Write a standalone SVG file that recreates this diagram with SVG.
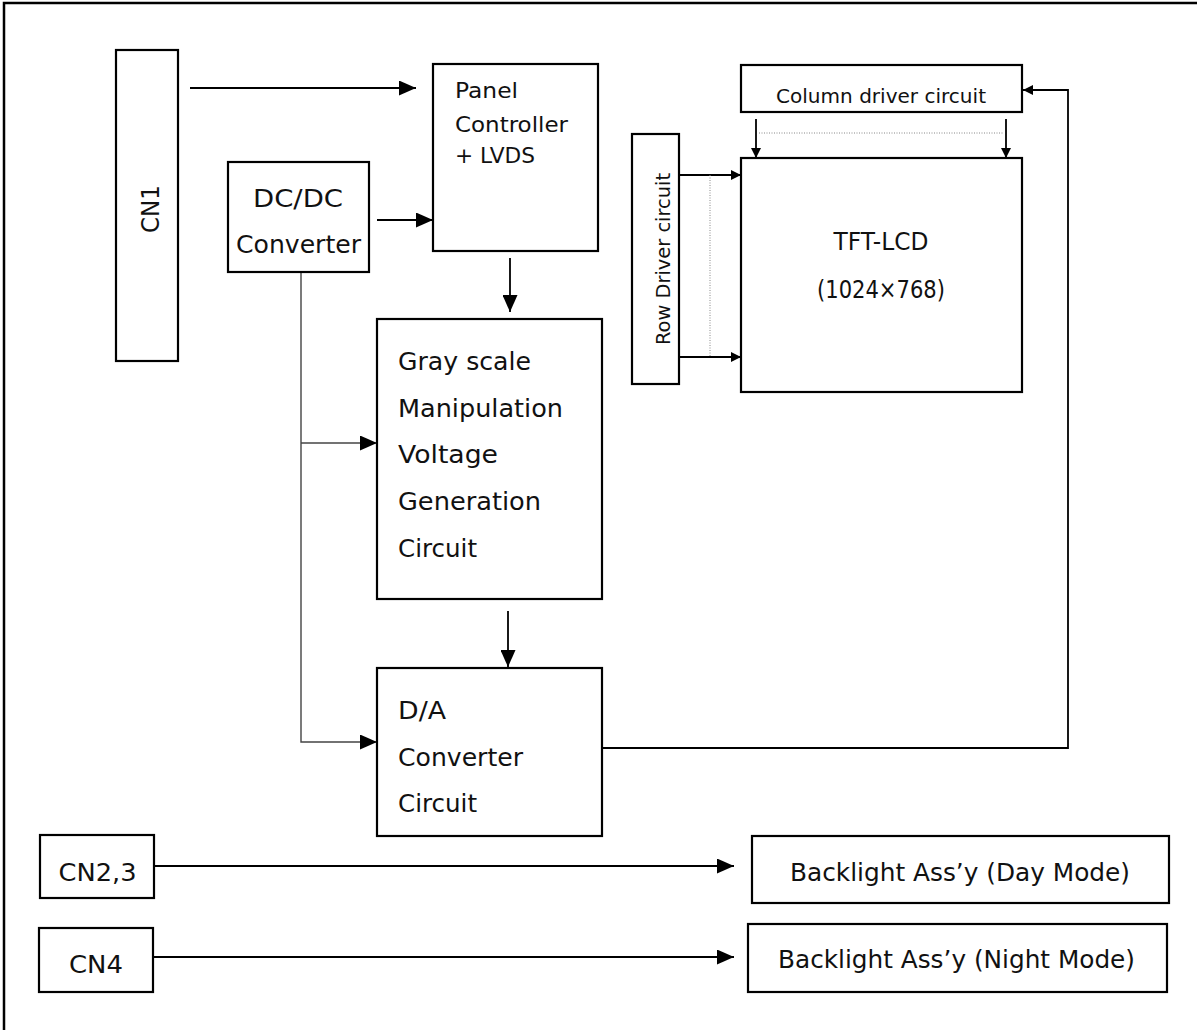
<svg xmlns="http://www.w3.org/2000/svg" width="1197" height="1030" viewBox="0 0 1197 1030">
<style>
.box{fill:#fff;stroke:#000;stroke-width:2.2}
.frame{fill:none;stroke:#000;stroke-width:2.5}
.ln{fill:none;stroke:#000;stroke-width:1.8}
.thin{fill:none;stroke:#444;stroke-width:1.4}
.dot{fill:none;stroke:#888;stroke-width:1;stroke-dasharray:1 1.5}
text{font-family:"DejaVu Sans","Liberation Sans",sans-serif;fill:#111}
.t23{font-size:22px}
.t25{font-size:24px}
.t20{font-size:19px}
.mid{text-anchor:middle}
</style>
<defs>
<marker id="big" markerUnits="userSpaceOnUse" markerWidth="17" markerHeight="15" refX="17" refY="7.5" orient="auto">
<path d="M0,0 L17,7.5 L0,15 z" fill="#000"/>
</marker>
<marker id="small" markerUnits="userSpaceOnUse" markerWidth="10" markerHeight="10" refX="10" refY="5" orient="auto">
<path d="M0,0 L10,5 L0,10 z" fill="#000"/>
</marker>
</defs>
<rect class="frame" x="4" y="3" width="1210" height="1040"/>

<g id="connectors">
<path class="ln" d="M190,88 H416" marker-end="url(#big)"/>
<path class="ln" d="M377,220 H433" marker-end="url(#big)"/>
<path class="ln" d="M510,258 V312" marker-end="url(#big)"/>
<path class="ln" d="M508,611 V667" marker-end="url(#big)"/>
<path class="thin" d="M301,272 V742 H377" marker-end="url(#big)"/>
<path class="thin" d="M301,443 H377" marker-end="url(#big)"/>
<path class="ln" d="M602,748 H1068 V90 H1023" marker-end="url(#small)"/>
<path class="ln" d="M756,119 V158" marker-end="url(#small)"/>
<path class="ln" d="M1006,119 V158" marker-end="url(#small)"/>
<path class="dot" d="M759,133 H1004"/>
<path class="ln" d="M679,175 H741" marker-end="url(#small)"/>
<path class="ln" d="M679,357 H741" marker-end="url(#small)"/>
<path class="dot" d="M710,175 V357"/>
<path class="ln" d="M154,866 H734" marker-end="url(#big)"/>
<path class="ln" d="M153,957 H734" marker-end="url(#big)"/>
</g>

<g id="cn1">
<rect class="box" x="116" y="50" width="62" height="311"/>
<text class="t25 mid" transform="translate(159,209) rotate(-90)" textLength="48" lengthAdjust="spacingAndGlyphs">CN1</text>
</g>

<g id="panel-controller">
<rect class="box" x="433" y="64" width="165" height="187"/>
<text class="t23" x="455" y="98" textLength="63" lengthAdjust="spacingAndGlyphs">Panel</text>
<text class="t23" x="455" y="132" textLength="113" lengthAdjust="spacingAndGlyphs">Controller</text>
<text class="t23" x="455" y="163" textLength="80" lengthAdjust="spacingAndGlyphs">+ LVDS</text>
</g>

<g id="dcdc">
<rect class="box" x="228" y="162" width="141" height="110"/>
<text class="t25 mid" x="298" y="207" textLength="90" lengthAdjust="spacingAndGlyphs">DC/DC</text>
<text class="t25 mid" x="298.5" y="253" textLength="125" lengthAdjust="spacingAndGlyphs">Converter</text>
</g>

<g id="grayscale">
<rect class="box" x="377" y="319" width="225" height="280"/>
<text class="t25" x="398" y="370" textLength="133" lengthAdjust="spacingAndGlyphs">Gray scale</text>
<text class="t25" x="398" y="417" textLength="165" lengthAdjust="spacingAndGlyphs">Manipulation</text>
<text class="t25" x="398" y="463" textLength="100" lengthAdjust="spacingAndGlyphs">Voltage</text>
<text class="t25" x="398" y="510" textLength="143" lengthAdjust="spacingAndGlyphs">Generation</text>
<text class="t25" x="398" y="557" textLength="79" lengthAdjust="spacingAndGlyphs">Circuit</text>
</g>

<g id="da-converter">
<rect class="box" x="377" y="668" width="225" height="168"/>
<text class="t25" x="398" y="719" textLength="48" lengthAdjust="spacingAndGlyphs">D/A</text>
<text class="t25" x="398" y="766" textLength="125" lengthAdjust="spacingAndGlyphs">Converter</text>
<text class="t25" x="398" y="812" textLength="79" lengthAdjust="spacingAndGlyphs">Circuit</text>
</g>

<g id="column-driver">
<rect class="box" x="741" y="65" width="281" height="47"/>
<text class="t20 mid" x="881" y="103" textLength="210" lengthAdjust="spacingAndGlyphs">Column driver circuit</text>
</g>

<g id="row-driver">
<rect class="box" x="632" y="134" width="47" height="250"/>
<text class="t20 mid" transform="translate(670,259) rotate(-90)" textLength="172" lengthAdjust="spacingAndGlyphs">Row Driver circuit</text>
</g>

<g id="tft-lcd">
<rect class="box" x="741" y="158" width="281" height="234"/>
<text class="t25 mid" x="881" y="250" textLength="95" lengthAdjust="spacingAndGlyphs">TFT-LCD</text>
<text class="t25 mid" x="881" y="298" textLength="128" lengthAdjust="spacingAndGlyphs">(1024×768)</text>
</g>

<g id="cn23">
<rect class="box" x="40" y="835" width="114" height="63"/>
<text class="t25 mid" x="97.5" y="881" textLength="78" lengthAdjust="spacingAndGlyphs">CN2,3</text>
</g>

<g id="backlight-day">
<rect class="box" x="752" y="836" width="417" height="67"/>
<text class="t25 mid" x="960" y="881" textLength="340" lengthAdjust="spacingAndGlyphs">Backlight Ass’y (Day Mode)</text>
</g>

<g id="cn4">
<rect class="box" x="39" y="928" width="114" height="64"/>
<text class="t25 mid" x="96" y="973" textLength="54" lengthAdjust="spacingAndGlyphs">CN4</text>
</g>

<g id="backlight-night">
<rect class="box" x="748" y="924" width="419" height="68"/>
<text class="t25 mid" x="956.5" y="968" textLength="357" lengthAdjust="spacingAndGlyphs">Backlight Ass’y (Night Mode)</text>
</g>
</svg>
